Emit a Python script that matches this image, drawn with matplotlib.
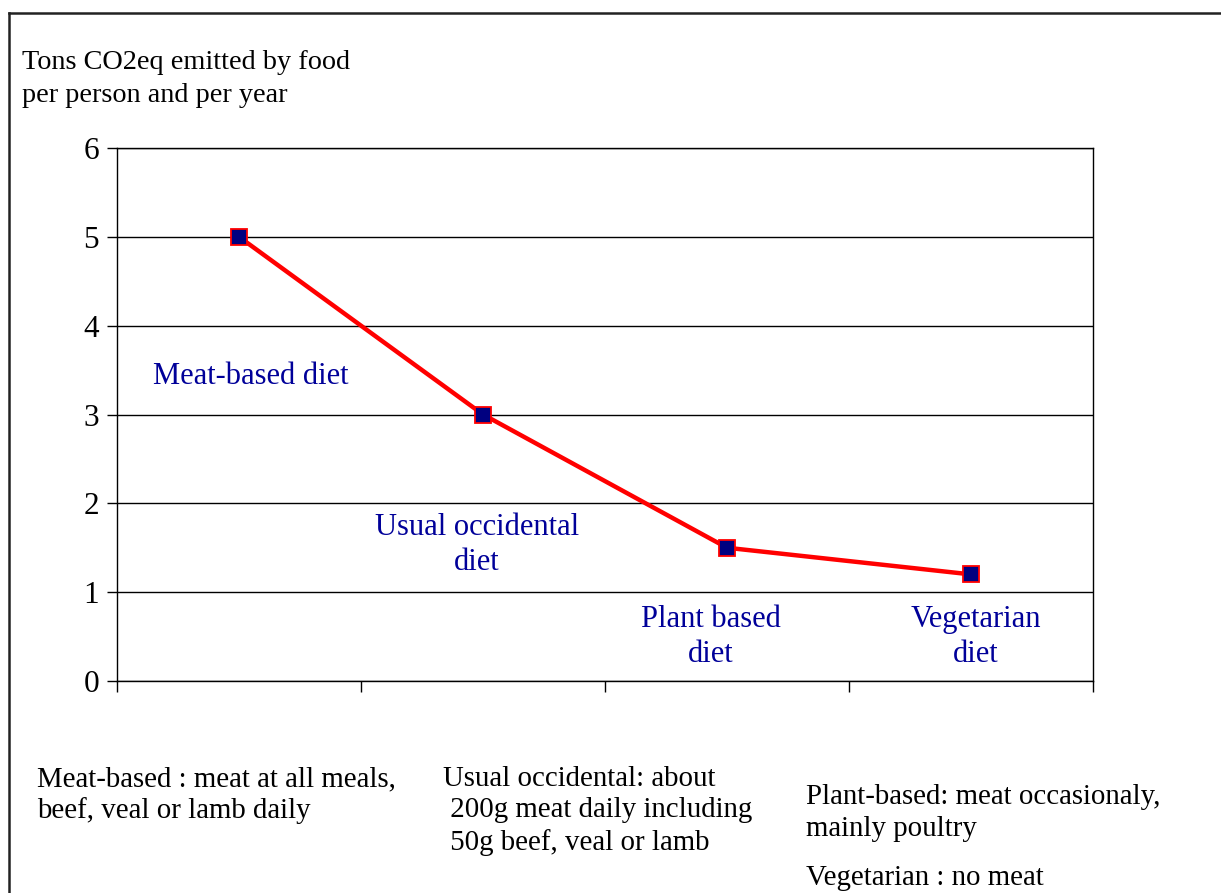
import matplotlib.pyplot as plt
from matplotlib.lines import Line2D

# ==== data ====
diets = ["Meat-based diet", "Usual occidental\ndiet", "Plant based\ndiet", "Vegetarian\ndiet"]
emissions = [5.0, 3.0, 1.5, 1.2]
y_ticks = [0, 1, 2, 3, 4, 5, 6]

notes = [
    "Meat-based : meat at all meals,\nbeef, veal or lamb daily",
    "Usual occidental: about\n 200g meat daily including\n 50g beef, veal or lamb",
    "Plant-based: meat occasionaly,\nmainly poultry",
    "Vegetarian : no meat",
]

plt.rcParams['font.family'] = ['Liberation Serif', 'DejaVu Serif']

W, H = 1221, 893
fig = plt.figure(figsize=(W / 100, H / 100), dpi=100)
ax = fig.add_axes([117 / W, 1 - 681 / H, 976 / W, 533 / H])

x = list(range(len(diets)))
ax.plot(x, emissions, color='red', linewidth=3.2, marker='s', markersize=11.5,
        markerfacecolor='#000080', markeredgecolor='red', markeredgewidth=1.3, zorder=5)

ax.set_xlim(-0.5, len(diets) - 0.5)
ax.set_ylim(0, 6)
ax.set_yticks(y_ticks)
ax.set_xticks([i - 0.5 for i in range(len(diets) + 1)])
ax.set_xticklabels([])
ax.tick_params(axis='y', direction='out', length=7, width=1, labelsize=22.5, pad=6)
ax.tick_params(axis='x', direction='out', length=8, width=1)
ax.yaxis.grid(True, color='black', linewidth=1)
ax.set_axisbelow(True)
for s in ax.spines.values():
    s.set_linewidth(1)

# category labels inside the plot (pixel positions of label centres)
label_pos = [(251, 376), (477, 545), (711, 637), (976, 637)]
for text, (px, py) in zip(diets, label_pos):
    fig.text(px / W, 1 - py / H, text, color='#000099', fontsize=22,
             ha='center', va='center', linespacing=1.3)

# y axis title
fig.text(22 / W, 1 - 79 / H, "Tons CO2eq emitted by food\nper person and per year",
         fontsize=20.3, ha='left', va='center', linespacing=1.42)

# notes below the chart
note_pos = [(37, 795), (443, 811), (806, 813), (806, 878)]
for text, (px, py) in zip(notes, note_pos):
    fig.text(px / W, 1 - py / H, text, fontsize=20.8, ha='left', va='center', linespacing=1.25)

# outer frame (left and top edges only)
fig.add_artist(Line2D([9 / W, 9 / W], [0, 1 - 13 / H], transform=fig.transFigure,
                      color='#222222', linewidth=1.8))
fig.add_artist(Line2D([9 / W, 1], [1 - 13 / H, 1 - 13 / H], transform=fig.transFigure,
                      color='#222222', linewidth=1.8))

fig.savefig("out.png", dpi=100)
